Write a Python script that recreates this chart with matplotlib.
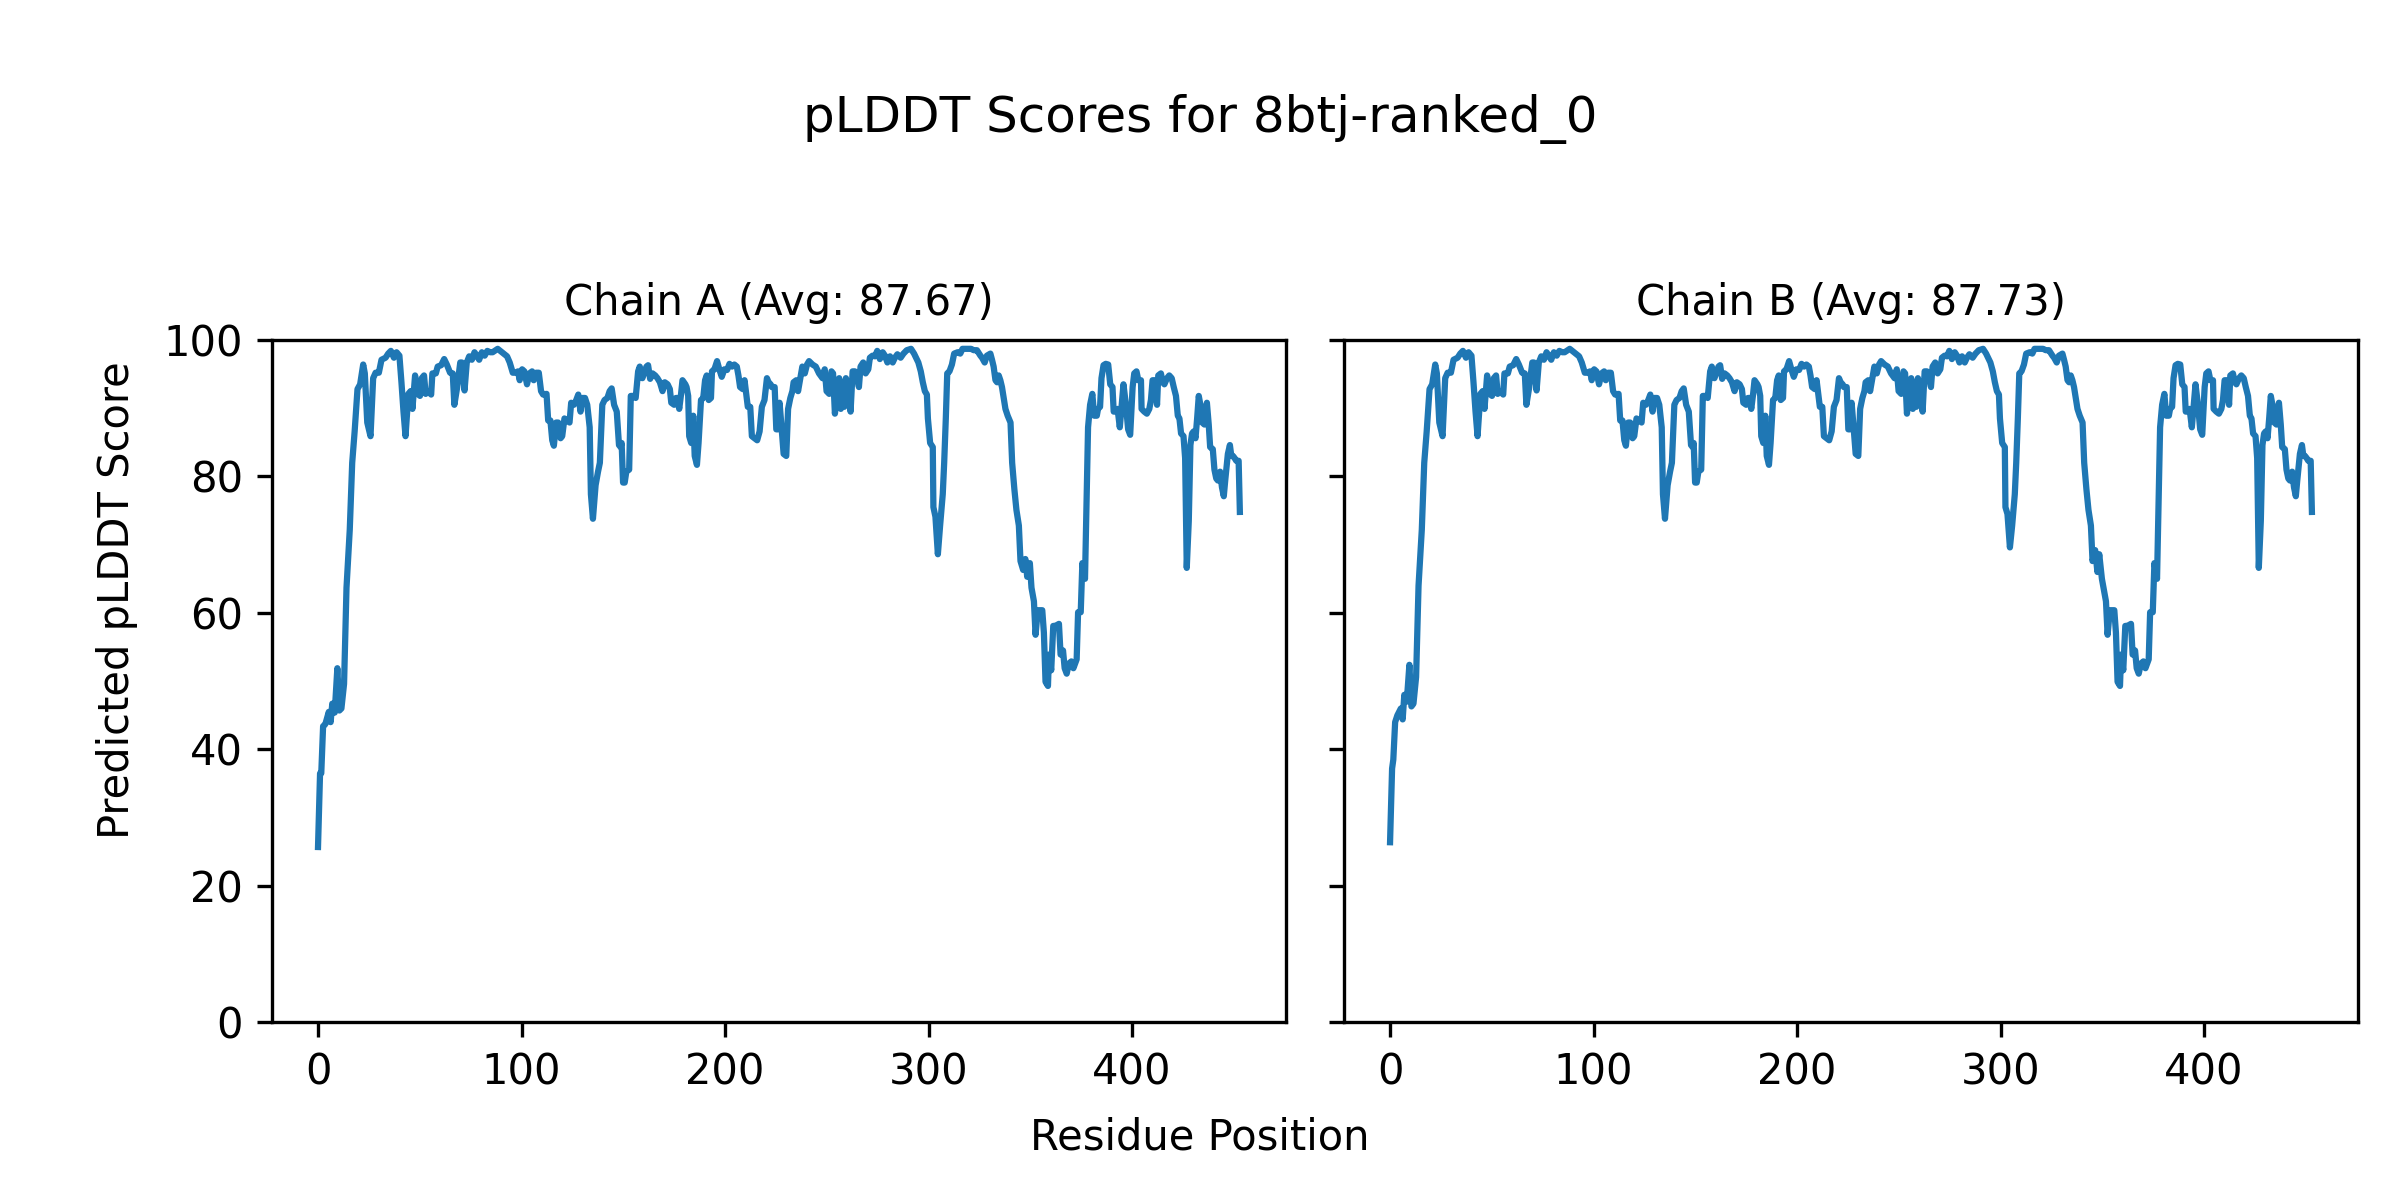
import matplotlib
matplotlib.use("Agg")
import matplotlib.pyplot as plt

# pLDDT per residue (vertices of the trace)
chain_a_residue = [
    0, 1, 1.6, 2.5, 3.6, 5.3, 6.2, 7, 8.2, 9.5,
    10.5, 11.5, 12.8, 14, 15.6, 16.8, 18, 19.4, 20.7, 22.2,
    23, 24.2, 25.8, 27.1, 28.3, 29.9, 31.2, 33.2, 34.5, 35.8,
    37.3, 38.6, 40, 41, 42, 43, 44.4, 45.5, 46.4, 47.7,
    49, 50.1, 51, 52.1, 52.9, 54.2, 55.6, 56.2, 57.9, 58.8,
    60.5, 62, 63.3, 64.9, 66.2, 67, 68.4, 69.9, 70.7, 72,
    73.1, 74.3, 75.6, 76.9, 78.2, 79.2, 80.5, 81.9, 83.2, 84.6,
    85.8, 88.3, 90.4, 92.9, 94.2, 95.7, 97, 98.3, 99.1, 100.3,
    101.4, 102.7, 103.9, 105.2, 106, 107.2, 108.5, 109.6, 110.6, 112.3,
    113.1, 114.2, 115.1, 115.9, 117, 118, 119.2, 120, 121.1, 122.4,
    123.6, 124.4, 125.7, 126.9, 127.9, 129, 129.8, 131.2, 132.3, 133.5,
    134.1, 135.1, 136.4, 137.6, 138.5, 139.7, 140.8, 142.2, 143.3, 144.3,
    145.5, 146.8, 147.9, 148.7, 149.2, 149.9, 150.7, 151.5, 152.9, 153.7,
    154.8, 156.1, 157.3, 158.1, 159.4, 160.6, 161.4, 162.2, 163.2, 164.4,
    165.7, 166.8, 168, 169.3, 170.4, 171.8, 172.9, 173.6, 175, 175.9,
    176.7, 177.5, 178.3, 179.1, 180.5, 181.1, 181.9, 182.4, 183.4, 184.4,
    185.1, 186.2, 187, 188.2, 189.3, 190.2, 191, 192, 193.1, 193.6,
    194.8, 196.1, 197.2, 198.4, 199.7, 201, 202.2, 203.5, 204.6, 205.8,
    206.6, 207.4, 208.7, 209.6, 210.4, 211.2, 212.4, 213.2, 214.5, 215.8,
    217, 218.1, 219.4, 220.6, 221.4, 222.4, 223, 224.4, 225.2, 226,
    226.8, 227.6, 228.8, 230.1, 231, 232.1, 233.1, 233.7, 235, 235.9,
    238, 239.2, 240.3, 241.3, 243, 244.6, 246.2, 247.9, 249, 249.9,
    251.2, 252.3, 253.1, 254, 255.1, 256.1, 256.9, 257.7, 258.6, 259.4,
    260.5, 261.7, 262.7, 263.8, 264.6, 265.8, 266.6, 267.9, 269.1, 270.4,
    271.2, 272.5, 273.7, 274.8, 276.1, 277.5, 278.6, 279.8, 281.1, 282.4,
    283.5, 284.7, 286.3, 287.7, 289.3, 291.4, 292.9, 295, 296.2, 297.2,
    298.2, 299.2, 299.7, 300.8, 302.1, 302.4, 303.4, 304.6, 305.7, 307,
    307.7, 308.5, 309.2, 310.3, 311.5, 312.6, 314.3, 315.6, 316.7, 318.4,
    319.7, 320.9, 322.2, 323.8, 325.5, 326.3, 327.6, 328.7, 330.4, 331.2,
    332, 332.9, 333.7, 334.5, 335.3, 336.1, 337.8, 338.9, 340.3, 341.1,
    342.2, 343.2, 344.4, 345.2, 346.5, 347.6, 348.5, 349.8, 350.6, 351.8,
    352.6, 353.7, 355, 355.9, 356.7, 357.5, 358.7, 359.2, 360.3, 361.3,
    362.4, 364.1, 364.9, 366.1, 366.9, 367.9, 369, 370.2, 371.2, 372.8,
    373.5, 374.8, 375.6, 376.9, 377.6, 378.4, 379.4, 380.5, 381.4, 382.7,
    383.3, 384.3, 385, 386, 387.1, 388.3, 389.3, 390.4, 391, 392.1,
    392.9, 394, 395, 395.8, 397, 398.1, 399.1, 400.3, 401.1, 402.2,
    403.1, 404.4, 404.7, 406, 407.3, 408.5, 409.3, 410.1, 411.3, 412.3,
    412.9, 414.2, 415.1, 415.9, 417.2, 418.3, 419.5, 420.5, 421.6, 422.5,
    423.3, 424.1, 425.3, 426.1, 426.9, 427.9, 428.7, 429.5, 430.3, 431.2,
    432, 432.8, 433.6, 434.5, 435.6, 436.8, 437.7, 438.4, 439.7, 440.5,
    441.4, 442.2, 443.3, 444.2, 445.1, 445.8, 447.1, 448.1, 448.8, 449.6,
    450.4, 451.2, 452.4, 453,
]

chain_a_plddt = [
    25.7, 36.5, 36.5, 43.4, 43.7, 45.5, 44.0, 46.7, 45.4, 51.9,
    45.7, 46.0, 49.6, 63.7, 72.2, 82.0, 86.6, 92.8, 93.5, 96.4,
    95.1, 87.9, 85.9, 94.4, 95.2, 95.2, 97.1, 97.4, 98.0, 98.4,
    97.4, 98.2, 97.7, 93.8, 89.5, 85.9, 92.1, 92.5, 89.9, 94.8,
    92.1, 91.8, 94.4, 94.8, 92.1, 92.5, 92.0, 95.1, 95.1, 96.1,
    96.3, 97.2, 96.4, 95.2, 95.1, 90.5, 93.1, 96.7, 96.7, 92.6,
    96.7, 97.6, 97.1, 98.2, 97.6, 97.1, 98.2, 97.7, 98.4, 98.2,
    98.2, 98.7, 98.2, 97.6, 96.7, 95.2, 95.2, 95.4, 94.1, 95.7,
    95.4, 93.5, 95.1, 95.4, 94.1, 95.2, 95.2, 92.5, 92.0, 92.1,
    88.2, 88.2, 85.3, 84.5, 87.9, 87.9, 85.6, 85.9, 88.5, 88.2,
    87.9, 90.8, 90.5, 91.2, 92.0, 89.5, 91.5, 91.5, 90.5, 87.2,
    77.4, 73.8, 78.7, 80.7, 82.0, 90.5, 91.2, 91.5, 92.5, 92.9,
    90.5, 89.5, 84.6, 84.3, 84.9, 79.1, 79.1, 80.7, 81.0, 91.8,
    91.8, 91.5, 95.4, 96.1, 94.4, 95.4, 96.1, 96.3, 94.3, 95.1,
    94.8, 94.4, 93.8, 92.5, 93.8, 93.5, 92.8, 90.8, 90.5, 91.5,
    91.5, 89.9, 91.8, 94.1, 93.5, 93.1, 91.8, 85.9, 84.9, 88.9,
    83.0, 81.7, 84.9, 91.2, 91.5, 94.1, 94.8, 91.2, 91.5, 95.4,
    95.7, 96.9, 95.7, 94.6, 95.7, 95.6, 96.5, 96.1, 96.4, 96.1,
    94.8, 93.1, 92.8, 94.1, 92.1, 90.2, 90.2, 85.9, 85.6, 85.3,
    86.6, 90.2, 91.2, 94.4, 93.8, 93.5, 93.1, 93.1, 86.9, 86.9,
    90.8, 87.9, 83.3, 83.0, 89.9, 91.5, 92.5, 93.8, 94.1, 92.5,
    96.1, 95.1, 96.4, 96.9, 96.4, 96.1, 95.1, 94.4, 95.7, 92.5,
    92.1, 95.4, 95.1, 89.2, 91.8, 94.4, 89.9, 93.8, 90.2, 94.4,
    93.1, 89.5, 95.4, 95.4, 94.8, 93.1, 96.1, 96.7, 95.1, 95.7,
    97.4, 97.7, 97.6, 98.4, 97.2, 98.2, 97.7, 96.7, 97.6, 96.7,
    97.4, 97.9, 97.4, 98.0, 98.5, 98.7, 98.0, 96.7, 95.4, 93.8,
    92.5, 92.0, 88.5, 84.9, 84.3, 75.5, 74.1, 68.6, 72.8, 77.4,
    82.0, 88.5, 95.1, 95.4, 96.4, 98.0, 98.2, 98.0, 98.7, 98.7,
    98.7, 98.7, 98.5, 98.5, 97.7, 97.4, 96.7, 97.7, 98.0, 97.1,
    96.1, 94.1, 93.8, 94.8, 94.1, 93.1, 89.9, 88.9, 87.9, 82.0,
    78.1, 75.1, 72.8, 67.6, 66.3, 67.9, 65.3, 67.3, 63.7, 61.7,
    56.8, 60.4, 60.4, 60.4, 57.1, 49.9, 49.3, 53.9, 51.6, 58.1,
    58.1, 58.4, 53.9, 54.5, 51.9, 51.1, 52.6, 52.9, 51.9, 53.2,
    60.1, 60.1, 67.3, 65.0, 75.5, 87.2, 90.5, 92.1, 88.9, 88.9,
    89.9, 90.2, 94.4, 96.3, 96.5, 96.4, 93.5, 93.1, 89.5, 89.5,
    89.9, 87.2, 90.8, 93.5, 90.5, 86.9, 86.1, 93.1, 95.1, 95.4,
    94.1, 94.1, 89.9, 89.5, 89.2, 89.9, 91.2, 94.1, 94.1, 90.5,
    94.8, 95.1, 93.8, 93.5, 94.4, 94.8, 94.4, 93.1, 91.8, 88.9,
    88.5, 86.3, 85.9, 82.7, 66.6, 73.5, 84.6, 86.3, 86.6, 85.6,
    88.5, 91.8, 90.5, 87.9, 87.6, 90.8, 87.6, 84.3, 84.0, 81.0,
    79.7, 79.4, 80.7, 78.4, 77.1, 79.4, 83.3, 84.6, 83.0, 83.0,
    82.7, 82.3, 82.3, 74.8,
]

# chain B follows chain A almost everywhere; these are the spots where it differs
chain_b_changes = {
    0: 26.4, 1: 37.2, 1.6: 38.5, 2.5: 44.0, 3.6: 45.0, 5.3: 46.0,
    6.2: 44.4, 7: 48.0, 8.2: 47.0, 9.5: 52.4, 10.5: 46.3, 11.5: 46.7,
    12.8: 50.6, 14: 64.0,
    303.4: 74.5, 304.6: 69.6,
    346.5: 69.2, 347.6: 66.0, 348.5: 68.6, 349.8: 65.0,
}
chain_b_residue = chain_a_residue
chain_b_plddt = [chain_b_changes.get(r, v) for r, v in zip(chain_a_residue, chain_a_plddt)]

chain_titles = ["Chain A (Avg: 87.67)", "Chain B (Avg: 87.73)"]

fig, axes = plt.subplots(1, 2, figsize=(8, 4), sharey=True)

chains = [(chain_a_residue, chain_a_plddt), (chain_b_residue, chain_b_plddt)]
for ax, (res, scores), title in zip(axes, chains, chain_titles):
    ax.plot(res, scores)
    ax.set_title(title, fontsize=10)
    ax.set_ylim(0, 100)

fig.suptitle("pLDDT Scores for 8btj-ranked_0", fontsize=12, y=0.901, va="center")
fig.supxlabel("Residue Position", fontsize=10, y=0.0525, va="center")
fig.supylabel("Predicted pLDDT Score", fontsize=10, x=0.04)
fig.subplots_adjust(left=0.1133, right=0.9825, top=0.7167, bottom=0.148, wspace=0.0572)

plt.savefig("out.png", dpi=300)
plt.close()
